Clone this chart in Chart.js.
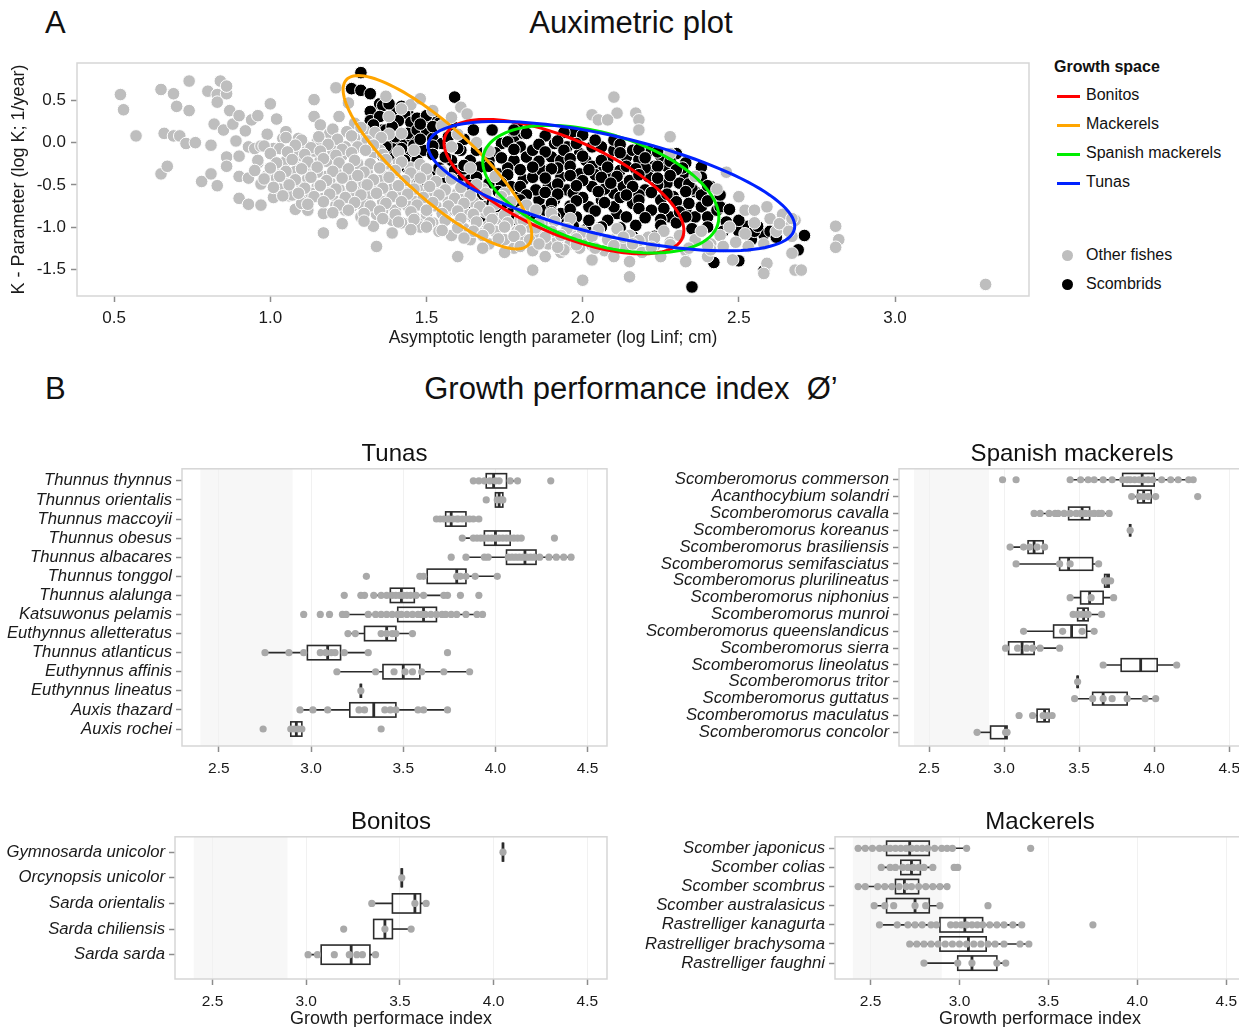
<!DOCTYPE html>
<html>
<head>
    <meta charset="utf-8">
    <title>Auximetric plot and growth performance</title>
    <style>
        body {
            margin: 0;
            width: 1239px;
            height: 1027px;
            position: relative;
            overflow: hidden;
            background: #fff;
            font-family: 'Liberation Sans', Arial, sans-serif;
            color: #111;
        }
        canvas { position: absolute; }
        .head {
            position: absolute;
            font-size: 31px;
            line-height: 31px;
            white-space: nowrap;
        }
        .centred { transform: translateX(-50%); }
        #legend {
            position: absolute;
            left: 1054px;
            top: 58px;
            font-size: 16px;
        }
        #legend .row {
            position: absolute;
            left: 0;
            white-space: nowrap;
        }
        #legend .key-line {
            position: absolute;
            left: 3px;
            width: 23px;
            height: 3px;
        }
        #legend .key-dot {
            position: absolute;
            left: 8px;
            width: 11px;
            height: 11px;
            border-radius: 50%;
        }
        #legend .txt {
            position: absolute;
            left: 32px;
        }
    </style>
</head>
<body>
    <div class="head" style="left:45px;top:7px;">A</div>
    <div class="head centred" style="left:631px;top:7px;">Auximetric plot</div>
    <div class="head" style="left:45px;top:373px;">B</div>
    <div class="head centred" style="left:631px;top:373px;">Growth performance index&nbsp;&nbsp;Ø’</div>

    <div id="legend"></div>

    <canvas id="auximetric" width="1040" height="320" style="left:0;top:40px;"></canvas>
    <canvas id="tunas" width="620" height="350" style="left:0;top:430px;"></canvas>
    <canvas id="spanish" width="640" height="350" style="left:620px;top:430px;"></canvas>
    <canvas id="bonitos" width="620" height="230" style="left:0;top:800px;"></canvas>
    <canvas id="mackerels" width="640" height="230" style="left:620px;top:800px;"></canvas>

    <script src="https://cdn.jsdelivr.net/npm/chart.js"></script>
    <script>
        // ---- Panel A data: log Linf (x) vs log K (y) ----
        const otherFishes = [
            [0.52,0.57],[0.53,0.39],[0.57,0.08],[0.65,0.63],[0.65,-0.37],[0.66,0.11],[0.67,-0.28],[0.69,0.58],[0.70,0.43],[0.69,0.08],
            [0.71,0.08],[0.74,0.73],[0.74,0.38],[0.73,-0.01],[0.76,0.0],[0.78,-0.46],[0.80,0.61],[0.81,-0.03],[0.81,-0.37],[0.82,0.22],
            [0.83,0.57],[0.83,-0.51],[0.83,0.48],[0.84,0.73],[0.86,0.58],[0.86,0.67],[0.87,0.38],[0.85,0.15],[0.86,-0.17],[0.86,-0.28],
            [0.88,0.22],[0.89,0.02],[0.90,0.32],[0.90,-0.40],[0.90,-0.16],[0.90,-0.66],[0.92,0.14],[0.93,-0.05],[0.93,-0.42],[0.93,-0.73],
            [0.94,0.27],[0.95,-0.07],[0.96,0.32],[0.96,-0.24],[0.97,-0.04],[0.97,-0.74],[0.97,-0.49],[0.99,0.10],[0.99,-0.39],[1.00,0.46],
            [1.01,-0.65],[1.01,-0.07],[1.02,0.28],[1.02,-0.26],[1.03,-0.50],[1.04,0.05],[1.05,-0.40],[1.05,0.13],[1.06,-0.63],[1.07,-0.14],
            [1.08,-0.34],[1.08,-0.79],[1.09,0.05],[1.10,-0.20],[1.10,-0.49],[1.11,-0.64],[1.12,-0.80],[1.12,-0.05],[1.13,-0.30],[1.14,0.51],
            [1.14,0.31],[1.15,-0.52],[1.15,0.01],[1.16,0.21],[1.16,-0.20],[1.17,-0.66],[1.17,-0.84],[1.17,-1.07],[1.18,-0.40],[1.19,0.11],
            [1.20,-0.09],[1.20,-0.52],[1.21,-0.74],[1.21,0.65],[1.21,-0.28],[1.22,0.31],[1.23,-0.96],[1.23,-0.60],[1.24,-0.05],[1.25,-0.40],
            [1.25,0.47],[1.26,-0.76],[1.27,0.23],[1.27,-0.20],[1.28,-0.52],[1.29,-0.88],[1.30,0.07],[1.31,-0.32],[1.31,-0.68],[1.33,-0.99],
            [1.34,-1.23],[1.34,-0.52],[1.35,-0.09],[1.36,-0.80],[1.37,0.55],[1.37,-0.40],[1.38,0.31],[1.38,-0.64],[1.39,-1.07],[1.39,-0.92],
            [1.41,-0.24],[1.42,-0.72],[1.42,0.11],[1.44,-0.48],[1.44,-0.96],[1.46,-0.09],[1.46,-0.64],[1.47,-0.92],
            [1.00,-0.30],[1.02,-0.42],[1.03,-0.55],[1.05,-0.22],[1.06,-0.48],[1.07,-0.62],[1.09,-0.15],[1.10,-0.72],[1.11,-0.28],[1.12,-0.42],
            [1.13,-0.60],[1.14,-0.10],[1.15,-0.35],[1.16,-0.50],[1.18,-0.22],[1.19,-0.45],[1.20,-0.62],[1.21,-0.35],[1.22,-0.55],[1.23,-0.15],
            [1.24,-0.80],[1.25,-0.42],[1.26,-0.62],[1.27,0.05],[1.28,-0.25],[1.29,-0.72],[1.30,-0.48],[1.30,0.15],[1.31,-0.35],[1.32,-0.60],
            [1.33,-0.12],[1.34,-0.85],[1.35,-0.45],[1.36,-0.70],[1.37,-0.25],[1.38,0.10],[1.39,-0.55],[1.40,-0.80],[1.40,-0.35],[1.41,-0.62],
            [1.42,-0.95],[1.43,-0.45],[1.44,-0.75],[1.45,-0.30],[1.46,-0.88],[1.47,-0.55],[1.48,-1.00],[1.49,-0.68],[1.50,-0.40],[1.50,-0.85],
            [1.51,-0.62],[1.52,-0.95],[1.53,-0.75],[1.54,-1.05],[1.55,-0.55],[1.56,-0.88],[1.57,-0.70],[1.58,-1.10],[1.59,-0.80],[1.60,-0.95],
            [1.60,-0.60],[1.62,-1.02],[1.63,-0.85],[1.64,-1.15],[1.65,-0.70],[1.66,-0.95],[1.68,-1.08],[1.69,-0.82],[1.70,-1.20],[1.70,-0.98],
            [1.72,-1.05],[1.73,-0.90],[1.75,-1.15],[1.76,-0.95],[1.78,-1.25],[1.79,-1.05],[1.80,-0.92],[1.81,-1.15],[1.83,-1.00],[1.84,-1.28],
            [1.86,-1.10],[1.87,-0.95],[1.89,-1.20],[1.90,-1.05],[1.92,-1.15],[1.93,-1.30],[1.95,-1.00],[1.96,-1.20],[1.98,-1.08],[1.99,-1.25],
            [2.01,-1.12],[2.03,-1.22],[2.05,-1.05],[2.07,-1.28],[2.09,-1.15],[2.11,-1.02],[2.13,-1.25],[2.15,-1.10],[2.17,-1.20],[2.19,-1.30],
            [2.21,-1.12],[2.23,-1.22],[2.26,-1.05],[2.28,-1.18],[2.31,-1.10],[2.33,-1.28],[2.36,-1.15],[2.38,-1.05],[2.41,-1.20],[2.44,-1.10],
            [2.47,-1.00],[2.49,-1.18],[2.52,-1.08],[2.55,-0.95],[2.58,-1.20],[2.60,-0.90],[2.62,-1.05],[2.64,-0.85],[2.66,-1.00],[2.68,-0.92],
            [1.45,0.45],[1.52,0.38],[1.58,0.30],[1.61,0.42],[1.63,0.34],[1.48,0.52],[1.42,0.40],[1.55,0.20],[1.60,0.10],[1.66,0.00],
            [1.70,-0.10],[1.58,-0.05],[1.64,-0.30],[1.72,-0.40],[1.75,-0.60],[1.68,-0.55],
            [2.10,0.54],[2.11,0.35],[2.03,0.33],[2.05,0.27],[2.08,0.27],[2.17,0.35],[2.18,0.27],[2.18,0.15],[2.28,0.07],[2.28,-0.13],
            [2.36,-0.40],[2.43,-0.55],[2.46,-0.35],[2.50,-0.64],[2.52,-0.80],[2.55,-0.80],[2.59,-0.76],[2.63,-0.96],[2.67,-1.11],[2.68,-1.51],
            [2.70,-1.51],[2.59,-1.43],[2.58,-1.55],[2.81,-0.99],[2.82,-1.15],[2.81,-1.24],[2.67,-0.90],[2.66,-1.05],[2.67,-1.31],[3.29,-1.68],
            [2.33,-1.41],[2.15,-1.41],[2.15,-1.59],[2.00,-1.63],[2.03,-1.39],[1.84,-1.51],[1.60,-1.35],[1.94,-1.27],[1.98,-1.11],[2.40,-1.35],
            [2.41,-1.27],[2.48,-1.39],[2.45,-1.23],[2.53,-1.23],[2.25,-1.35],[2.10,-1.35],[1.88,-1.35],[1.75,-1.30],[1.68,-1.25],
            // dense core of the cloud
            [1.20,0.16],[1.245,0.13],[1.29,0.18],[1.335,0.12],
            [1.05,0.06],[1.10,0.03],[1.155,0.07],[1.215,0.04],[1.26,0.08],[1.31,0.02],[1.355,0.06],
            [0.98,-0.04],[1.03,-0.07],[1.08,-0.03],[1.13,-0.06],[1.185,-0.02],[1.23,-0.08],[1.28,-0.05],[1.33,-0.03],
            [1.00,-0.13],[1.055,-0.11],[1.11,-0.14],[1.16,-0.10],[1.21,-0.15],[1.26,-0.12],[1.305,-0.09],[1.36,-0.14],[1.41,-0.11],
            [0.96,-0.21],[1.02,-0.24],[1.07,-0.20],[1.12,-0.23],[1.17,-0.19],[1.22,-0.24],[1.27,-0.21],[1.32,-0.25],[1.37,-0.20],[1.42,-0.23],
            [1.48,-0.26],[0.95,-0.33],[1.00,-0.30],[1.05,-0.34],[1.10,-0.31],[1.15,-0.29],[1.20,-0.34],[1.25,-0.31],[1.30,-0.35],[1.35,-0.30],
            [1.40,-0.33],[1.45,-0.36],[1.50,-0.31],[1.55,-0.34],
            [0.98,-0.43],[1.03,-0.40],[1.08,-0.44],[1.13,-0.41],[1.18,-0.45],[1.23,-0.42],[1.28,-0.39],[1.33,-0.44],[1.38,-0.41],[1.43,-0.45],
            [1.48,-0.42],[1.53,-0.46],[1.58,-0.43],
            [1.01,-0.53],[1.06,-0.50],[1.11,-0.54],[1.16,-0.51],[1.21,-0.55],[1.26,-0.52],[1.31,-0.50],[1.36,-0.54],[1.41,-0.51],[1.46,-0.55],
            [1.51,-0.52],[1.56,-0.56],[1.61,-0.53],[1.66,-0.50],
            [1.04,-0.63],[1.09,-0.60],[1.14,-0.64],[1.19,-0.61],[1.24,-0.65],[1.29,-0.62],[1.34,-0.60],[1.39,-0.64],[1.44,-0.61],[1.49,-0.65],
            [1.54,-0.62],[1.59,-0.66],[1.64,-0.63],[1.69,-0.60],[1.74,-0.64],
            [1.12,-0.73],[1.17,-0.70],[1.22,-0.74],[1.27,-0.71],[1.32,-0.75],[1.37,-0.72],[1.42,-0.70],[1.47,-0.74],[1.52,-0.71],[1.57,-0.75],
            [1.62,-0.72],[1.67,-0.76],[1.72,-0.73],[1.77,-0.70],[1.82,-0.74],
            [1.20,-0.83],[1.25,-0.80],[1.30,-0.84],[1.35,-0.81],[1.40,-0.85],[1.45,-0.82],[1.50,-0.80],[1.55,-0.84],[1.60,-0.81],[1.65,-0.85],
            [1.70,-0.82],[1.75,-0.86],[1.80,-0.83],[1.85,-0.80],[1.90,-0.84],
            [1.30,-0.93],[1.36,-0.90],[1.41,-0.94],[1.46,-0.91],[1.51,-0.95],[1.56,-0.92],[1.61,-0.90],[1.66,-0.94],[1.71,-0.91],[1.76,-0.95],
            [1.81,-0.92],[1.86,-0.96],[1.91,-0.93],[1.96,-0.90],
            [1.45,-1.03],[1.50,-1.00],[1.55,-1.04],[1.60,-1.01],[1.65,-1.05],[1.70,-1.02],[1.75,-1.00],[1.80,-1.04],[1.85,-1.01],[1.90,-1.05],
            [1.95,-1.02],[2.00,-1.06],[2.05,-1.03],
            [1.62,-1.13],[1.68,-1.10],[1.73,-1.14],[1.78,-1.11],[1.83,-1.15],[1.88,-1.12],[1.93,-1.10],[1.98,-1.14],[2.03,-1.11],[2.08,-1.15],
            [2.13,-1.12],[2.18,-1.16],[2.23,-1.13],
            [1.80,-1.23],[1.86,-1.20],[1.92,-1.24],[1.98,-1.21],[2.04,-1.25],[2.10,-1.22],[2.16,-1.20],[2.22,-1.24],[2.28,-1.21],[2.34,-1.25],
            [2.40,-1.22]
        ];
        const scombrids = [
            [1.29,0.83],[1.26,0.64],[1.29,0.62],[1.32,0.58],[1.35,0.46],[1.32,0.37],[1.32,0.26],[1.40,0.39],[1.42,0.32],[1.44,0.35],
            [1.46,0.27],[1.36,0.15],[1.38,0.09],[1.42,-0.01],[1.45,0.07],[1.39,-0.07],[1.44,-0.11],[1.41,-0.20],[1.44,-0.30],[1.47,-0.18],
            [1.42,-0.65],[1.44,-0.58],[1.39,-0.31],[1.37,-0.01],[1.59,0.54],[1.39,0.38],[1.36,0.44],[1.43,0.34],[1.41,0.26],[1.45,0.24],
            [1.49,0.26],[1.52,0.32],[1.54,0.23],[1.37,0.15],[1.40,0.07],[1.44,0.11],[1.47,0.15],[1.50,0.15],[1.52,0.05],[1.55,-0.01],
            [1.37,-0.05],[1.42,-0.07],[1.46,-0.03],[1.49,-0.09],[1.43,-0.21],[1.40,-0.17],[1.47,-0.21],[1.51,-0.37],[1.54,-0.52],[1.43,-0.58],
            [1.58,-0.21],[1.61,-0.09],[1.59,-0.33],[1.57,-0.44],[1.61,-0.44],[1.60,-0.60],[1.58,-0.68],[1.62,-0.68],[1.64,-0.21],[1.64,-0.44],
            [1.65,0.15],[1.71,0.15],[1.65,-0.60],[1.64,-0.76],[1.66,-0.80],[1.65,-0.88],[1.67,-0.94],[1.69,-0.92],[1.69,-0.76],[1.71,-0.72],
            [1.74,-0.92],[1.70,-0.48],[1.73,-0.37],[1.74,-0.01],[1.70,-0.13],[1.67,-0.29],[1.77,-0.52],[1.77,-0.76],[1.78,-0.21],[1.78,0.07],
            [1.79,0.19],[1.81,0.11],[1.80,-0.05],[1.82,-0.17],[1.84,-0.09],[1.81,-0.44],[1.84,-0.41],[1.87,-1.00],[1.86,-0.68],[1.85,-0.56],
            [1.89,-0.52],[1.87,-0.33],[1.90,-0.17],[1.91,-0.01],[1.93,-0.21],[1.95,-0.05],[1.97,0.11],[1.99,-0.13],[1.93,-0.41],[1.95,-0.56],
            [1.91,-0.68],[1.93,-0.84],[1.97,-0.60],[1.98,-0.88],[1.99,-0.37],[2.01,-0.21],[2.03,-0.05],[2.05,-0.29],[2.03,-0.52],[2.02,-0.76],
            [2.06,-0.68],[2.08,-0.21],[2.10,-0.09],[2.09,-0.41],[2.12,-0.33],[2.10,-0.60],[2.11,-0.84],[2.13,-0.52],[2.14,-0.17],[2.00,-0.16],
            [2.03,-0.28],[2.06,-0.05],[2.11,-0.40],[2.14,-0.28],[2.16,-0.09],[2.18,-0.20],[2.21,-0.40],[2.20,-0.56],[2.23,-0.28],[2.25,-0.16],
            [2.27,-0.28],[2.27,-0.48],[2.25,-0.68],[2.22,-0.80],[2.16,-0.72],[2.14,-0.88],[2.10,-0.76],[2.08,-0.92],[2.29,-0.64],[2.33,-0.80],
            [2.36,-0.88],[2.38,-0.76],[2.40,-0.88],[2.43,-0.80],[2.33,-0.40],[2.30,-0.13],[2.22,-0.09],[2.10,0.03],[2.01,-1.03],[1.97,-0.99],
            [2.16,-1.11],[1.88,-1.03],[2.42,-1.42],[2.50,-1.40],[2.58,-1.52],[2.69,-1.27],[2.71,-1.10],[2.58,-1.09],[2.54,-1.15],[2.50,-1.05],
            [2.53,-0.99],[2.46,-0.94],[2.44,-0.76],[2.41,-0.52],[2.36,-0.58],[2.33,-0.24],[2.31,-0.48],[2.28,-0.88],[2.23,-1.11],[2.18,-1.16],
            [1.78,0.15],[2.35,-1.71],[1.76,-0.30],[1.80,-0.62],[1.83,-0.80],[1.88,-0.80],[1.92,-0.30],[1.96,-0.75],[2.00,-0.45],[2.00,-0.65],
            [2.04,-0.38],[2.07,-0.55],[2.12,-0.65],[2.15,-0.45],[2.18,-0.62],[2.20,-0.30],[2.24,-0.50],[2.26,-0.78],[2.30,-0.70],[2.32,-0.30],
            [2.35,-0.55],[2.38,-0.62],[2.17,-0.98],[2.06,-1.00],[1.95,-0.95],[1.85,-0.90],[2.30,-0.95],[2.40,-1.00],[2.45,-1.05],[2.60,-1.05],
            [2.62,-1.12],[2.55,-1.05],
            // dense core of the tuna / bonito cluster
            [1.82,0.11],[1.88,0.08],[1.94,0.12],[2.00,0.09],
            [1.76,0.01],[1.86,-0.02],[1.92,0.02],[1.98,-0.01],[2.04,0.03],[2.12,-0.02],
            [1.66,-0.09],[1.72,-0.12],[1.78,-0.08],[1.88,-0.11],[1.94,-0.09],[2.12,-0.12],[2.18,-0.08],[2.24,-0.11],
            [1.70,-0.21],[1.74,-0.18],[1.86,-0.22],[1.96,-0.19],[2.06,-0.21],[2.20,-0.18],[2.28,-0.22],
            [1.62,-0.31],[1.70,-0.28],[1.80,-0.32],[1.84,-0.29],[1.90,-0.31],[1.96,-0.28],[2.02,-0.32],[2.08,-0.29],[2.17,-0.31],[2.24,-0.28],
            [2.30,-0.32],[2.38,-0.29],
            [1.66,-0.41],[1.76,-0.38],[1.88,-0.42],[1.96,-0.39],[2.06,-0.41],[2.18,-0.38],[2.24,-0.42],[2.28,-0.39],[2.38,-0.41],
            [1.64,-0.51],[1.74,-0.48],[1.80,-0.52],[1.92,-0.49],[1.98,-0.51],[2.09,-0.48],[2.16,-0.52],[2.34,-0.49],[2.40,-0.51],
            [1.68,-0.61],[1.73,-0.58],[1.82,-0.62],[1.88,-0.59],[1.92,-0.61],[2.05,-0.58],[2.14,-0.62],[2.22,-0.59],[2.27,-0.61],[2.33,-0.58],
            [2.44,-0.62],
            [1.75,-0.71],[1.80,-0.68],[1.90,-0.72],[1.98,-0.69],[2.07,-0.71],[2.18,-0.68],[2.34,-0.72],[2.40,-0.69],
            [1.72,-0.81],[1.80,-0.78],[1.90,-0.82],[1.96,-0.79],[2.04,-0.81],[2.18,-0.78],[2.31,-0.82],[2.47,-0.79],
            [1.78,-0.91],[1.91,-0.88],[2.02,-0.92],[2.20,-0.89],[2.25,-0.91],[2.33,-0.88],[2.50,-0.92],
            [2.12,-1.01],[2.25,-0.98],[2.35,-1.02],[2.56,-0.99],
            // mackerel cluster core
            [1.38,0.46],[1.42,0.43],[1.35,0.31],[1.47,0.29],[1.50,0.32],[1.33,0.21],[1.39,0.19],[1.48,0.22],[1.52,0.19],[1.58,0.21],
            [1.34,0.06],[1.48,0.04],[1.57,0.07],[1.62,0.04],[1.34,-0.06],[1.52,-0.04],[1.60,-0.07],[1.36,-0.16],[1.52,-0.14],[1.56,-0.17],
            [1.41,-0.29],[1.48,-0.27],[1.54,-0.30],[1.62,-0.27],[1.45,-0.43],[1.48,-0.41],[1.55,-0.44],[1.47,-0.56],[1.50,-0.54]
        ];
        const auxXTicks = [0.5, 1.0, 1.5, 2.0, 2.5, 3.0];
        const auxYTicks = [-1.5, -1.0, -0.5, 0.0, 0.5];

        // growth space ellipses: centre, half-range in x and y, correlation
        const growthGroups = ['Bonitos', 'Mackerels', 'Spanish mackerels', 'Tunas'];
        const groupColors = ['#ff0000', '#ffa500', '#00ee00', '#0022ff'];
        const ellipseCentres = [[1.94, -0.521], [1.535, -0.232], [2.058, -0.551], [2.092, -0.515]];
        const ellipseSpreads = [[0.384, 0.797], [0.302, 1.027], [0.378, 0.756], [0.587, 0.767]];
        const ellipseCorr = [-0.652, -0.839, -0.437, -0.619];

        // ---- Panel B data: growth performance index per species ----
        const growthTicks = [2.5, 3.0, 3.5, 4.0, 4.5];
        const referenceBand = [2.4, 2.9];

        const tunaSpecies = ['Thunnus thynnus', 'Thunnus orientalis', 'Thunnus maccoyii', 'Thunnus obesus', 'Thunnus albacares',
            'Thunnus tonggol', 'Thunnus alalunga', 'Katsuwonus pelamis', 'Euthynnus alletteratus', 'Thunnus atlanticus',
            'Euthynnus affinis', 'Euthynnus lineatus', 'Auxis thazard', 'Auxis rochei'];
        // [lower whisker, q1, median, q3, upper whisker]
        const tunaBoxes = [
            [3.88, 3.95, 3.99, 4.06, 4.13], [4.00, 4.00, 4.02, 4.04, 4.04], [3.68, 3.73, 3.76, 3.84, 3.91],
            [3.82, 3.94, 4.00, 4.08, 4.14], [3.84, 4.06, 4.16, 4.22, 4.41], [3.59, 3.63, 3.79, 3.84, 4.01],
            [3.33, 3.43, 3.49, 3.56, 3.74], [3.20, 3.47, 3.61, 3.68, 3.90], [3.20, 3.29, 3.41, 3.46, 3.55],
            [2.75, 2.98, 3.09, 3.16, 3.31], [3.14, 3.39, 3.50, 3.59, 3.86], [3.27, 3.27, 3.27, 3.27, 3.27],
            [2.94, 3.21, 3.34, 3.46, 3.74], [2.89, 2.89, 2.92, 2.95, 2.95]
        ];
        const tunaPhi = [
            [3.88, 3.91, 3.94, 3.97, 4.00, 4.02, 4.08, 4.12, 4.30],
            [3.95, 4.01, 4.03, 4.04],
            [3.68, 3.70, 3.72, 3.74, 3.75, 3.77, 3.79, 3.80, 3.82, 3.84, 3.86, 3.88, 3.91],
            [3.82, 3.88, 3.90, 3.92, 3.94, 3.96, 3.98, 4.00, 4.02, 4.04, 4.06, 4.08, 4.10, 4.12, 4.14, 4.32],
            [3.76, 3.84, 3.94, 3.96, 4.07, 4.09, 4.11, 4.13, 4.15, 4.17, 4.19, 4.21, 4.24, 4.29, 4.33, 4.37, 4.41],
            [3.30, 3.59, 3.61, 3.79, 3.81, 3.84, 3.89, 4.01],
            [3.18, 3.27, 3.29, 3.34, 3.38, 3.41, 3.44, 3.46, 3.48, 3.50, 3.52, 3.54, 3.57, 3.61, 3.72, 3.74, 3.81, 3.91],
            [2.96, 3.05, 3.10, 3.17, 3.19, 3.31, 3.35, 3.38, 3.41, 3.44, 3.47, 3.49, 3.52, 3.55, 3.58, 3.60, 3.62, 3.65,
                3.68, 3.71, 3.73, 3.76, 3.79, 3.84, 3.90, 3.93],
            [3.20, 3.24, 3.38, 3.41, 3.44, 3.46, 3.55],
            [2.75, 2.88, 2.96, 3.05, 3.08, 3.11, 3.13, 3.18, 3.31, 3.74],
            [3.14, 3.35, 3.45, 3.51, 3.55, 3.60, 3.72, 3.86],
            [3.27],
            [2.94, 3.01, 3.09, 3.26, 3.29, 3.40, 3.43, 3.46, 3.58, 3.61, 3.74],
            [2.74, 2.89, 2.91, 2.93, 2.95, 3.38]
        ];

        const spanishSpecies = ['Scomberomorus commerson', 'Acanthocybium solandri', 'Scomberomorus cavalla', 'Scomberomorus koreanus',
            'Scomberomorus brasiliensis', 'Scomberomorus semifasciatus', 'Scomberomorus plurilineatus', 'Scomberomorus niphonius',
            'Scomberomorus munroi', 'Scomberomorus queenslandicus', 'Scomberomorus sierra', 'Scomberomorus lineolatus',
            'Scomberomorus tritor', 'Scomberomorus guttatus', 'Scomberomorus maculatus', 'Scomberomorus concolor'];
        const spanishBoxes = [
            [3.44, 3.79, 3.92, 4.00, 4.26], [3.85, 3.89, 3.93, 3.98, 4.01], [3.20, 3.43, 3.52, 3.57, 3.70],
            [3.84, 3.84, 3.84, 3.84, 3.84], [3.04, 3.16, 3.20, 3.26, 3.27], [3.08, 3.37, 3.43, 3.59, 3.63],
            [3.67, 3.67, 3.69, 3.70, 3.70], [3.44, 3.51, 3.57, 3.66, 3.73], [3.46, 3.49, 3.53, 3.56, 3.65],
            [3.13, 3.33, 3.45, 3.55, 3.60], [3.01, 3.03, 3.12, 3.20, 3.37], [3.66, 3.78, 3.91, 4.02, 4.15],
            [3.49, 3.49, 3.49, 3.49, 3.49], [3.47, 3.59, 3.66, 3.82, 4.01], [3.19, 3.22, 3.27, 3.30, 3.32],
            [2.82, 2.91, 3.01, 3.02, 3.02]
        ];
        const spanishPhi = [
            [2.99, 3.08, 3.44, 3.51, 3.56, 3.60, 3.66, 3.72, 3.79, 3.82, 3.84, 3.87, 3.90, 3.93, 3.96, 3.99, 4.05, 4.11, 4.16, 4.23, 4.26],
            [3.85, 3.90, 3.93, 3.96, 4.01, 4.29],
            [3.20, 3.24, 3.30, 3.34, 3.36, 3.40, 3.44, 3.48, 3.51, 3.54, 3.57, 3.60, 3.63, 3.65, 3.70],
            [3.84],
            [3.04, 3.13, 3.17, 3.22, 3.27],
            [3.08, 3.37, 3.44, 3.63],
            [3.67, 3.69, 3.71],
            [3.44, 3.58, 3.73],
            [3.46, 3.49, 3.52, 3.55, 3.56, 3.65],
            [3.13, 3.39, 3.52, 3.60],
            [3.01, 3.09, 3.15, 3.19, 3.24, 3.37],
            [3.66, 4.15],
            [3.49],
            [3.47, 3.59, 3.66, 3.72, 3.82, 3.94, 4.01],
            [3.10, 3.19, 3.26, 3.29, 3.32],
            [2.82, 3.01, 3.02]
        ];

        const bonitoSpecies = ['Gymnosarda unicolor', 'Orcynopsis unicolor', 'Sarda orientalis', 'Sarda chiliensis', 'Sarda sarda'];
        const bonitoBoxes = [
            [4.05, 4.05, 4.05, 4.05, 4.05], [3.51, 3.51, 3.51, 3.51, 3.51], [3.35, 3.46, 3.58, 3.61, 3.64],
            [3.36, 3.36, 3.42, 3.46, 3.56], [3.01, 3.08, 3.24, 3.34, 3.37]
        ];
        const bonitoPhi = [
            [4.05],
            [3.51],
            [3.35, 3.58, 3.64],
            [3.20, 3.42, 3.56],
            [3.01, 3.06, 3.15, 3.23, 3.27, 3.30, 3.37]
        ];

        const mackerelSpecies = ['Scomber japonicus', 'Scomber colias', 'Scomber scombrus', 'Scomber australasicus',
            'Rastrelliger kanagurta', 'Rastrelliger brachysoma', 'Rastrelliger faughni'];
        const mackerelBoxes = [
            [2.43, 2.59, 2.72, 2.83, 3.04], [2.56, 2.67, 2.73, 2.78, 2.85], [2.43, 2.64, 2.69, 2.77, 2.93],
            [2.52, 2.59, 2.75, 2.83, 2.89], [2.55, 2.89, 3.03, 3.13, 3.35], [2.72, 2.89, 3.05, 3.15, 3.39],
            [2.80, 2.99, 3.07, 3.21, 3.26]
        ];
        const mackerelPhi = [
            [2.43, 2.47, 2.51, 2.55, 2.58, 2.61, 2.64, 2.67, 2.70, 2.73, 2.76, 2.79, 2.82, 2.86, 2.90, 2.93, 2.96, 3.04, 3.40],
            [2.56, 2.61, 2.64, 2.68, 2.71, 2.74, 2.77, 2.80, 2.85, 2.97, 2.99],
            [2.43, 2.47, 2.54, 2.58, 2.62, 2.66, 2.70, 2.73, 2.77, 2.81, 2.85, 2.89, 2.93],
            [2.52, 2.58, 2.63, 2.75, 2.81, 2.89, 3.16],
            [2.55, 2.65, 2.71, 2.75, 2.79, 2.84, 2.87, 2.95, 2.98, 3.01, 3.04, 3.07, 3.10, 3.13, 3.17, 3.21, 3.25, 3.30, 3.35, 3.75],
            [2.72, 2.76, 2.80, 2.84, 2.88, 2.92, 2.96, 3.00, 3.04, 3.08, 3.12, 3.16, 3.20, 3.25, 3.34, 3.39],
            [2.80, 2.99, 3.07, 3.21, 3.26]
        ];

        // ---- shared look ----
        Chart.defaults.font.family = "'Liberation Sans', Arial, sans-serif";
        Chart.defaults.color = '#1a1a1a';
        Chart.defaults.animation = false;
        Chart.defaults.plugins.legend.display = false;
        Chart.defaults.plugins.tooltip.enabled = false;

        const tickGrey = '#8c8c8c';

        // light grey frame round each panel
        const framePlugin = {
            id: 'frame',
            beforeDatasetsDraw(chart) {
                const a = chart.chartArea;
                const ctx = chart.ctx;
                ctx.save();
                ctx.strokeStyle = '#d6d6d6';
                ctx.lineWidth = 1.5;
                ctx.strokeRect(a.left, a.top, a.right - a.left, a.bottom - a.top);
                ctx.restore();
            }
        };

        // growth space ellipses for panel A
        const ellipsePlugin = {
            id: 'growthSpace',
            afterDatasetsDraw(chart) {
                const {ctx, scales: {x, y}} = chart;
                ctx.save();
                ctx.lineWidth = 3;
                growthGroups.forEach((g, i) => {
                    const [cx, cy] = ellipseCentres[i];
                    const [wx, wy] = ellipseSpreads[i];
                    const r = ellipseCorr[i];
                    const s = Math.sqrt(1 - r * r);
                    ctx.strokeStyle = groupColors[i];
                    ctx.beginPath();
                    for (let k = 0; k <= 120; k++) {
                        const t = k / 120 * 2 * Math.PI;
                        const px = x.getPixelForValue(cx + wx * Math.cos(t));
                        const py = y.getPixelForValue(cy + wy * (r * Math.cos(t) + s * Math.sin(t)));
                        if (k === 0) ctx.moveTo(px, py); else ctx.lineTo(px, py);
                    }
                    ctx.closePath();
                    ctx.stroke();
                });
                ctx.restore();
            }
        };

        new Chart(document.getElementById('auximetric'), {
            type: 'scatter',
            data: {
                datasets: [
                    {
                        label: 'Other fishes',
                        data: otherFishes.map(p => ({x: p[0], y: p[1]})),
                        backgroundColor: '#bebebe',
                        borderColor: '#ffffff',
                        borderWidth: 1,
                        pointRadius: 6.3
                    },
                    {
                        label: 'Scombrids',
                        data: scombrids.map(p => ({x: p[0], y: p[1]})),
                        backgroundColor: '#000000',
                        borderColor: '#ffffff',
                        borderWidth: 1,
                        pointRadius: 6.3
                    }
                ]
            },
            options: {
                responsive: false,
                layout: { padding: { top: 23, right: 11, bottom: 0, left: 0 } },
                scales: {
                    x: {
                        type: 'linear', min: 0.381, max: 3.429,
                        afterBuildTicks: s => { s.ticks = auxXTicks.map(v => ({value: v})); },
                        afterFit: s => { s.height = 64; },
                        ticks: { callback: v => v.toFixed(1), font: { size: 17 }, padding: 6, maxRotation: 0 },
                        grid: { drawOnChartArea: false, tickLength: 6, tickColor: tickGrey, tickWidth: 1.5 },
                        border: { display: false },
                        title: {
                            display: true, text: 'Asymptotic length parameter (log Linf; cm)',
                            font: { size: 17.5 }, padding: { top: 0, bottom: 11 }
                        }
                    },
                    y: {
                        type: 'linear', min: -1.817, max: 0.944,
                        afterBuildTicks: s => { s.ticks = auxYTicks.map(v => ({value: v})); },
                        afterFit: s => { s.width = 77; },
                        ticks: { callback: v => v.toFixed(1), font: { size: 17 }, padding: 5 },
                        grid: { drawOnChartArea: false, tickLength: 6, tickColor: tickGrey, tickWidth: 1.5 },
                        border: { display: false },
                        title: {
                            display: true, text: 'K - Parameter (log K; 1/year)',
                            font: { size: 18 }, padding: { top: 8, bottom: 0 }
                        }
                    }
                }
            },
            plugins: [framePlugin, ellipsePlugin]
        });

        // legend for panel A
        const legend = document.getElementById('legend');
        legend.innerHTML = '<div class="row" style="top:0;font-weight:bold;">Growth space</div>';
        growthGroups.forEach((g, i) => {
            legend.innerHTML += `<div class="row" style="top:${28 + i * 29}px;">` +
                `<span class="key-line" style="top:9px;background:${groupColors[i]};"></span>` +
                `<span class="txt">${g}</span></div>`;
        });
        [['Other fishes', '#bebebe'], ['Scombrids', '#000000']].forEach(([name, col], i) => {
            legend.innerHTML += `<div class="row" style="top:${188 + i * 29}px;">` +
                `<span class="key-dot" style="top:4px;background:${col};"></span>` +
                `<span class="txt">${name}</span></div>`;
        });

        // box plots for panel B
        function boxPlugin(boxes) {
            return {
                id: 'boxes',
                beforeDraw(chart) {
                    // shaded reference band
                    const {ctx, chartArea: a, scales: {x}} = chart;
                    ctx.save();
                    ctx.fillStyle = '#f7f7f7';
                    const x0 = x.getPixelForValue(referenceBand[0]);
                    const x1 = x.getPixelForValue(referenceBand[1]);
                    ctx.fillRect(x0, a.top, x1 - x0, a.bottom - a.top);
                    ctx.restore();
                },
                beforeDatasetsDraw(chart) {
                    const {ctx, scales: {x, y}} = chart;
                    ctx.save();
                    ctx.strokeStyle = '#2b2b2b';
                    boxes.forEach((b, i) => {
                        const [lo, q1, med, q3, hi] = b;
                        const yc = y.getPixelForValue(i);
                        const yt = y.getPixelForValue(i - 0.375);
                        const yb = y.getPixelForValue(i + 0.375);
                        ctx.lineWidth = 1.6;
                        ctx.beginPath();
                        ctx.moveTo(x.getPixelForValue(lo), yc);
                        ctx.lineTo(x.getPixelForValue(q1), yc);
                        ctx.moveTo(x.getPixelForValue(q3), yc);
                        ctx.lineTo(x.getPixelForValue(hi), yc);
                        ctx.stroke();
                        const xl = x.getPixelForValue(q1);
                        const xr = x.getPixelForValue(q3);
                        ctx.strokeRect(xl, yt, xr - xl, yb - yt);
                        ctx.lineWidth = 2.8;
                        ctx.beginPath();
                        ctx.moveTo(x.getPixelForValue(med), yt);
                        ctx.lineTo(x.getPixelForValue(med), yb);
                        ctx.stroke();
                    });
                    ctx.restore();
                }
            };
        }

        function growthPanel(id, title, species, boxes, phi, view) {
            const points = [];
            phi.forEach((vals, i) => vals.forEach(v => points.push({x: v, y: i})));
            return new Chart(document.getElementById(id), {
                type: 'scatter',
                data: {
                    datasets: [{
                        label: title,
                        data: points,
                        backgroundColor: '#a9a9a9',
                        borderWidth: 0,
                        pointRadius: 3.6
                    }]
                },
                options: {
                    responsive: false,
                    layout: { padding: { top: 0, right: view.padRight, bottom: 0, left: 0 } },
                    plugins: {
                        title: {
                            display: true, text: title, fullSize: false,
                            font: { size: 24, weight: 'normal' }, color: '#111',
                            padding: { top: view.titleTop, bottom: 0 }
                        }
                    },
                    scales: {
                        x: {
                            type: 'linear', min: 2.3, max: 4.605,
                            afterBuildTicks: s => { s.ticks = growthTicks.map(v => ({value: v})); },
                            afterFit: s => { s.height = view.xHeight; },
                            ticks: { callback: v => v.toFixed(1), font: { size: 15.5 }, padding: 7, maxRotation: 0 },
                            grid: { color: '#f1f1f1', tickLength: 6, tickColor: tickGrey, tickWidth: 1.5 },
                            border: { display: false },
                            title: {
                                display: !!view.xTitle, text: view.xTitle || '',
                                font: { size: 18 }, padding: { top: 0, bottom: 0 }
                            }
                        },
                        y: {
                            type: 'linear', reverse: true, min: view.yMin, max: view.yMax,
                            afterBuildTicks: s => { s.ticks = species.map((n, i) => ({value: i})); },
                            afterFit: s => { s.width = view.yWidth; },
                            ticks: {
                                callback: v => species[v], autoSkip: false, padding: 4,
                                font: { size: 16.7, style: 'italic' }
                            },
                            grid: { drawOnChartArea: false, tickLength: 6, tickColor: tickGrey, tickWidth: 1.5 },
                            border: { display: false }
                        }
                    }
                },
                plugins: [boxPlugin(boxes), framePlugin]
            });
        }

        growthPanel('tunas', 'Tunas', tunaSpecies, tunaBoxes, tunaPhi,
            { yMin: -0.63, yMax: 13.89, yWidth: 182, padRight: 13, titleTop: 10, xHeight: 34 });
        growthPanel('spanish', 'Spanish mackerels', spanishSpecies, spanishBoxes, spanishPhi,
            { yMin: -0.65, yMax: 15.81, yWidth: 279, padRight: 15, titleTop: 10, xHeight: 34 });
        growthPanel('bonitos', 'Bonitos', bonitoSpecies, bonitoBoxes, bonitoPhi,
            { yMin: -0.6, yMax: 4.95, yWidth: 175, padRight: 13, titleTop: 8, xHeight: 51, xTitle: 'Growth performace index' });
        growthPanel('mackerels', 'Mackerels', mackerelSpecies, mackerelBoxes, mackerelPhi,
            { yMin: -0.6, yMax: 6.83, yWidth: 215, padRight: 15, titleTop: 8, xHeight: 51, xTitle: 'Growth performace index' });
    </script>
</body>
</html>
